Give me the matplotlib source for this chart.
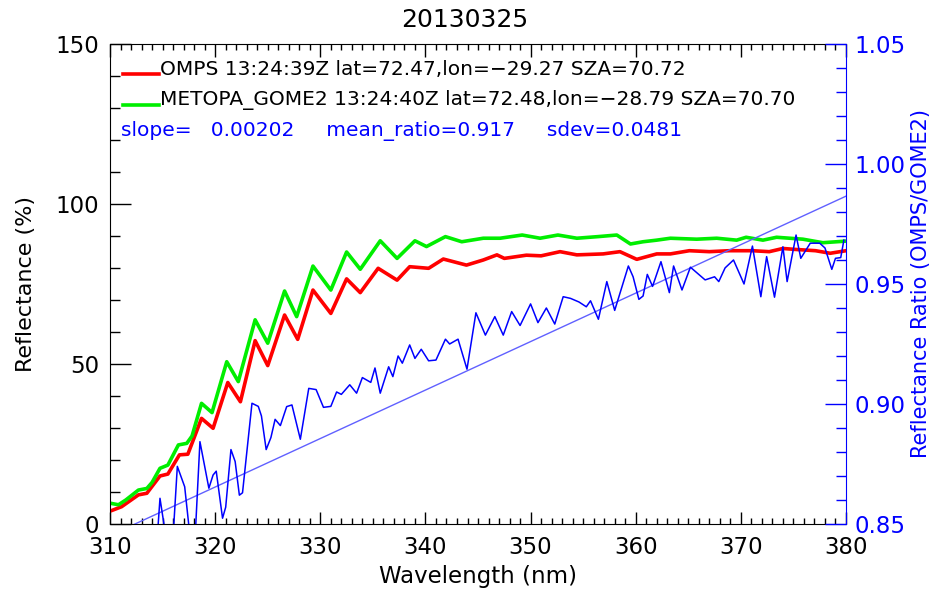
import numpy as np
import matplotlib
matplotlib.use('Agg')
import matplotlib.pyplot as plt
from matplotlib.ticker import MultipleLocator

# OMPS reflectance (red)
omps_wl = [310.0, 311.1, 312.7, 313.5, 314.75, 315.5, 316.6, 317.4, 318.7, 319.8,
           321.2, 322.4, 323.8, 325.0, 326.6, 327.85, 329.3, 331.0, 332.5, 333.8,
           335.5, 337.3, 338.5, 340.3, 341.7, 343.9, 345.5, 346.8, 347.5, 349.6,
           351.0, 352.8, 354.4, 356.9, 358.5, 360.1, 362.0, 363.3, 365.1, 367.0,
           368.9, 371.1, 372.7, 374.0, 375.2, 377.1, 378.5, 380.0]
omps_refl = [4.0, 5.4, 9.1, 9.6, 15.0, 15.6, 21.6, 21.8, 33.0, 29.9,
             44.2, 38.2, 57.3, 49.5, 65.3, 57.7, 73.1, 65.8, 76.6, 72.3,
             79.9, 76.2, 80.4, 79.9, 82.8, 80.9, 82.5, 84.1, 83.0, 84.0,
             83.8, 85.1, 84.1, 84.4, 85.1, 82.7, 84.4, 84.4, 85.4, 85.1,
             85.4, 85.4, 85.1, 86.1, 85.8, 85.4, 84.6, 85.4]

# METOPA GOME2 reflectance (green)
gome_wl = [310.0, 310.8, 311.5, 312.7, 313.5, 314.0, 314.75, 315.5, 316.5, 317.3,
           317.8, 318.7, 319.7, 321.1, 322.2, 323.8, 325.0, 326.6, 327.75, 329.3,
           331.0, 332.5, 333.8, 335.7, 337.3, 339.0, 340.1, 341.9, 343.45, 345.5,
           347.1, 349.2, 350.9, 352.6, 354.4, 356.4, 358.2, 359.5, 360.7, 362.0,
           363.3, 365.8, 367.7, 369.6, 370.5, 372.1, 373.4, 375.9, 377.8, 380.0]
gome_refl = [6.5, 6.0, 7.5, 10.6, 11.1, 13.0, 17.4, 18.4, 24.7, 25.2,
             27.5, 37.7, 34.8, 50.7, 44.5, 63.8, 56.5, 72.8, 64.8, 80.6,
             73.1, 85.0, 79.6, 88.5, 83.0, 88.5, 86.7, 89.8, 88.2, 89.3,
             89.3, 90.3, 89.3, 90.3, 89.3, 89.8, 90.3, 87.5, 88.2, 88.7,
             89.3, 89.0, 89.3, 88.7, 89.6, 88.7, 89.6, 89.0, 87.9, 88.4]

# ratio OMPS/GOME2 (blue)
ratio_wl = [314.5, 314.75, 315.3, 316.0, 316.4, 317.1, 317.6, 318.1, 318.55, 319.4,
            319.8, 320.1, 320.7, 321.0, 321.5, 321.9, 322.3, 322.6, 323.5, 324.1,
            324.4, 324.85, 325.3, 325.7, 326.2, 326.8, 327.3, 328.1, 328.9, 329.6,
            330.3, 331.0, 331.55, 332.0, 332.8, 333.45, 334.0, 334.8, 335.2, 335.7,
            336.5, 336.9, 337.4, 337.8, 338.5, 339.0, 339.6, 340.3, 341.0, 341.9,
            342.3, 343.1, 343.95, 344.8, 345.7, 346.6, 347.4, 348.2, 349.0, 350.0,
            350.7, 351.5, 352.3, 353.1, 353.8, 354.6, 355.3, 355.7, 356.45, 357.25,
            358.0, 359.3, 359.75, 360.3, 360.7, 361.1, 361.6, 362.4, 363.2, 363.6,
            364.4, 365.2, 366.6, 367.5, 367.9, 368.5, 369.3, 370.3, 371.1, 371.9,
            372.45, 373.2, 374.0, 374.4, 375.25, 375.7, 376.6, 377.5, 378.0, 378.65,
            379.0, 379.5, 379.8]
ratio = [0.845, 0.8607, 0.845, 0.845, 0.874, 0.8655, 0.845, 0.845, 0.8843, 0.8649,
         0.8704, 0.872, 0.8524, 0.857, 0.881, 0.876, 0.862, 0.863, 0.9003, 0.899,
         0.895, 0.881, 0.886, 0.8936, 0.891, 0.8989, 0.8996, 0.8853, 0.9065, 0.906,
         0.8986, 0.899, 0.905, 0.904, 0.908, 0.9045, 0.911, 0.909, 0.915, 0.9045,
         0.9155, 0.9114, 0.920, 0.917, 0.9246, 0.919, 0.9228, 0.918, 0.9183, 0.927,
         0.925, 0.927, 0.9145, 0.938, 0.9287, 0.9364, 0.9287, 0.9385, 0.9327, 0.9417,
         0.9339, 0.940, 0.9333, 0.9447, 0.944, 0.9425, 0.9405, 0.943, 0.9353, 0.951,
         0.939, 0.9575, 0.953, 0.9436, 0.945, 0.954, 0.949, 0.9593, 0.9464, 0.9575,
         0.9475, 0.957, 0.9517, 0.953, 0.951, 0.9567, 0.960, 0.950, 0.9658, 0.9447,
         0.9614, 0.9445, 0.9655, 0.951, 0.9704, 0.9607, 0.967, 0.967, 0.965, 0.9561,
         0.9607, 0.961, 0.9683]

# linear fit of the ratio (slope = 0.00202)
fit_wl = [310.0, 380.0]
fit_ratio = [0.8452, 0.9866]

legend_lines = ['OMPS 13:24:39Z lat=72.47,lon=\u221229.27 SZA=70.72',
                'METOPA_GOME2 13:24:40Z lat=72.48,lon=\u221228.79 SZA=70.70']
stats_text = 'slope=   0.00202     mean_ratio=0.917     sdev=0.0481'

fig = plt.figure(figsize=(9.31, 5.89), dpi=100)
ax = fig.add_axes([0.1182, 0.1104, 0.7905, 0.8149])
ax2 = ax.twinx()

ax.plot(omps_wl, omps_refl, color='red', lw=2.6)
ax.plot(gome_wl, gome_refl, color='#00ee00', lw=2.6)
ax2.plot(fit_wl, fit_ratio, color='#6060ff', lw=1.0)
ax2.plot(ratio_wl, ratio, color='blue', lw=1.1)

ax.set_xlim(310, 380)
ax.set_ylim(0, 150)
ax2.set_ylim(0.85, 1.05)

ax.xaxis.set_major_locator(MultipleLocator(10))
ax.xaxis.set_minor_locator(MultipleLocator(1))
ax.yaxis.set_major_locator(MultipleLocator(50))
ax.yaxis.set_minor_locator(MultipleLocator(10))
ax2.yaxis.set_major_locator(MultipleLocator(0.05))
ax2.yaxis.set_minor_locator(MultipleLocator(0.01))
ax2.yaxis.set_major_formatter(plt.FormatStrFormatter('%.2f'))

ax.tick_params(axis='x', which='major', direction='in', length=9, width=1, top=True, labelsize=16.5, pad=9)
ax.tick_params(axis='x', which='minor', direction='in', length=4.5, width=1, top=True)
ax.tick_params(axis='y', which='major', direction='in', length=15, width=1, labelsize=16.5, pad=8, right=False)
ax.tick_params(axis='y', which='minor', direction='in', length=7, width=1, right=False)
ax2.tick_params(axis='y', which='major', direction='in', length=15, width=1, colors='blue', labelsize=16.5, pad=6)
ax2.tick_params(axis='y', which='minor', direction='in', length=7, width=1, colors='blue')

ax.spines['right'].set_visible(False)
for s in ['left', 'top', 'bottom']:
    ax2.spines[s].set_visible(False)
ax2.spines['right'].set_color('blue')

ax.set_xlabel('Wavelength (nm)', fontsize=16.5, labelpad=4)
ax.set_ylabel('Reflectance (%)', fontsize=16, labelpad=14)
ax2.set_ylabel('Reflectance Ratio (OMPS/GOME2)', fontsize=15, color='blue', labelpad=4)
fig.text(465 / 931, 0.966, '20130325', fontsize=18, ha='center', va='center')

# legend entries written like the original
ax.plot([0.017, 0.066], [0.937, 0.937], color='red', lw=2.6, transform=ax.transAxes, clip_on=False)
ax.plot([0.017, 0.066], [0.873, 0.873], color='#00ee00', lw=2.6, transform=ax.transAxes, clip_on=False)
ax.text(0.068, 0.947, legend_lines[0], transform=ax.transAxes, fontsize=14.5, va='center')
ax.text(0.068, 0.883, legend_lines[1], transform=ax.transAxes, fontsize=14.5, va='center')
ax.text(0.015, 0.819, stats_text, transform=ax.transAxes, fontsize=14.5, va='center', color='blue')

fig.savefig('out.png', dpi=100)
